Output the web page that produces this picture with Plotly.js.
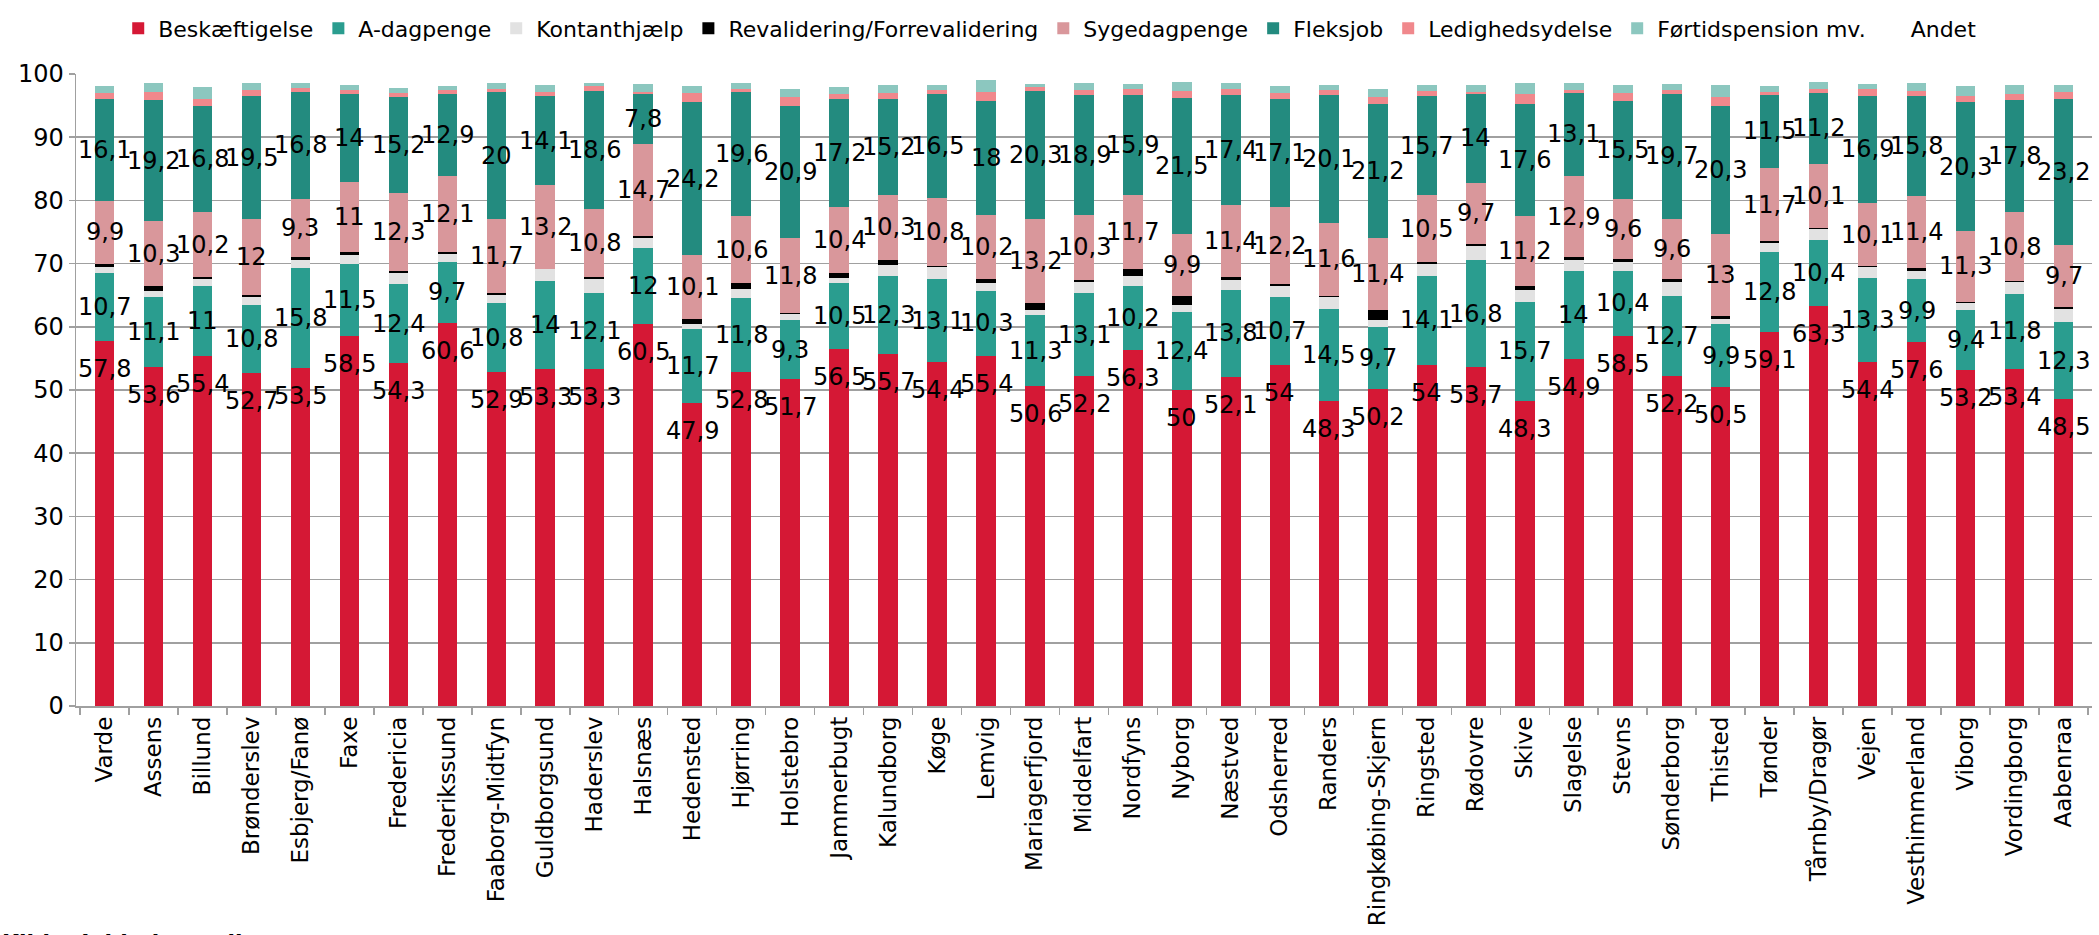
<!DOCTYPE html>
<html>
<head>
<meta charset="utf-8">
<script src="https://cdn.plot.ly/plotly-3.0.1.min.js"></script>
<style>html,body{margin:0;padding:0;background:#fff;}#chart{width:2099px;height:935px;}</style>
</head>
<body>
<div id="chart"></div>
<script>
const categories = ["Varde","Assens","Billund","Brønderslev","Esbjerg/Fanø","Faxe","Fredericia","Frederikssund","Faaborg-Midtfyn","Guldborgsund","Haderslev","Halsnæs","Hedensted","Hjørring","Holstebro","Jammerbugt","Kalundborg","Køge","Lemvig","Mariagerfjord","Middelfart","Nordfyns","Nyborg","Næstved","Odsherred","Randers","Ringkøbing-Skjern","Ringsted","Rødovre","Skive","Slagelse","Stevns","Sønderborg","Thisted","Tønder","Tårnby/Dragør","Vejen","Vesthimmerland","Viborg","Vordingborg","Aabenraa"];

const beskaeftigelse = [57.8,53.6,55.4,52.7,53.5,58.5,54.3,60.6,52.9,53.3,53.3,60.5,47.9,52.8,51.7,56.5,55.7,54.4,55.4,50.6,52.2,56.3,50,52.1,54,48.3,50.2,54,53.7,48.3,54.9,58.5,52.2,50.5,59.1,63.3,54.4,57.6,53.2,53.4,48.5];
const aDagpenge = [10.7,11.1,11,10.8,15.8,11.5,12.4,9.7,10.8,14,12.1,12,11.7,11.8,9.3,10.5,12.3,13.1,10.3,11.3,13.1,10.2,12.4,13.8,10.7,14.5,9.7,14.1,16.8,15.7,14,10.4,12.7,9.9,12.8,10.4,13.3,9.9,9.4,11.8,12.3];
const kontanthjaelp = [0.9,1.0,1.1,1.2,1.3,1.4,1.8,1.2,1.4,1.8,2.2,1.6,0.8,1.4,1.0,0.8,1.8,1.9,1.2,0.8,1.8,1.6,1.0,1.5,1.7,1.9,1.2,1.8,2.3,1.8,1.6,1.4,2.2,0.8,1.4,1.7,1.7,1.4,1.2,1.9,2.0];
const revalidering = [0.6,0.7,0.4,0.3,0.4,0.5,0.3,0.3,0.3,0.1,0.3,0.2,0.8,0.9,0.2,0.7,0.8,0.2,0.6,1.1,0.3,1.0,1.4,0.5,0.3,0.2,1.6,0.4,0.3,0.6,0.5,0.4,0.4,0.5,0.2,0.3,0.15,0.4,0.1,0.2,0.4];
const sygedagpenge = [9.9,10.3,10.2,12,9.3,11,12.3,12.1,11.7,13.2,10.8,14.7,10.1,10.6,11.8,10.4,10.3,10.8,10.2,13.2,10.3,11.7,9.9,11.4,12.2,11.6,11.4,10.5,9.7,11.2,12.9,9.6,9.6,13,11.7,10.1,10.1,11.4,11.3,10.8,9.7];
const fleksjob = [16.1,19.2,16.8,19.5,16.8,14,15.2,12.9,20,14.1,18.6,7.8,24.2,19.6,20.9,17.2,15.2,16.5,18,20.3,18.9,15.9,21.5,17.4,17.1,20.1,21.2,15.7,14,17.6,13.1,15.5,19.7,20.3,11.5,11.2,16.9,15.8,20.3,17.8,23.2];
const ledighedsydelse = [1.0,1.2,1.2,1.0,0.7,0.5,0.7,0.6,0.6,0.7,0.8,0.3,1.5,0.5,1.5,0.8,0.9,0.5,1.4,0.7,0.9,0.9,1.1,0.9,1.0,0.8,1.0,0.8,0.3,1.6,0.4,1.2,0.6,1.4,0.5,0.6,1.0,0.8,1.0,1.0,1.1];
const foertidspension = [1.1,1.5,1.8,1.0,0.7,0.8,0.8,0.7,0.9,1.0,0.5,1.3,1.1,1.0,1.2,1.1,1.3,0.9,2.0,0.4,1.0,0.8,1.4,0.9,1.1,0.9,1.4,1.0,1.1,1.7,1.2,1.3,1.0,1.9,0.9,1.1,0.9,1.3,1.6,1.4,1.0];
const andet = [1.7,1.4,2.1,1.5,1.4,1.7,2.1,1.9,1.4,1.8,1.4,1.7,1.9,1.5,2.4,2.0,1.7,1.6,0.9,1.6,1.5,1.6,1.3,1.5,1.9,1.7,2.3,1.7,1.8,1.5,1.4,1.7,1.6,1.7,2.0,1.4,1.6,1.3,1.9,1.7,1.8];

const yTicks = [0,10,20,30,40,50,60,70,80,90,100];

const FONT = "DejaVu Sans, Verdana, sans-serif";

const seriesDefs = [
  {name: "Beskæftigelse", y: beskaeftigelse, color: "#D51835"},
  {name: "A-dagpenge", y: aDagpenge, color: "#2A9D8F"},
  {name: "Kontanthjælp", y: kontanthjaelp, color: "#E2E2E2"},
  {name: "Revalidering/Forrevalidering", y: revalidering, color: "#000000"},
  {name: "Sygedagpenge", y: sygedagpenge, color: "#D9979B"},
  {name: "Fleksjob", y: fleksjob, color: "#238B7F"},
  {name: "Ledighedsydelse", y: ledighedsydelse, color: "#F0888C"},
  {name: "Førtidspension mv.", y: foertidspension, color: "#8CC7BF"},
  {name: "Andet", y: andet, color: "rgba(0,0,0,0)"}
];

const traces = seriesDefs.map(s => ({
  type: "bar",
  name: s.name,
  x: categories,
  y: s.y,
  marker: {color: s.color, line: {width: 0}},
  hoverinfo: "x+y+name"
}));

function fmt(v){ return String(v).replace(".", ","); }

const LBL = {family: FONT, size: 24, color: "#000"};
const annotations = [];
categories.forEach((c, i) => {
  const b = beskaeftigelse[i];
  annotations.push({x: c, y: b, xref: "x", yref: "y", text: fmt(b), showarrow: false, yshift: -28, font: LBL});
  const a = aDagpenge[i];
  annotations.push({x: c, y: b + a / 2, xref: "x", yref: "y", text: fmt(a), showarrow: false, font: LBL});
  const baseS = b + a + kontanthjaelp[i] + revalidering[i];
  const s = sygedagpenge[i];
  annotations.push({x: c, y: baseS + s / 2, xref: "x", yref: "y", text: fmt(s), showarrow: false, font: LBL});
  const f = fleksjob[i];
  annotations.push({x: c, y: baseS + s + f / 2, xref: "x", yref: "y", text: fmt(f), showarrow: false, font: LBL});
});

annotations.push({
  xref: "paper", yref: "paper", x: -0.0377, y: -0.352, xanchor: "left", yanchor: "top",
  text: "<b>Kilde: Jobindsats.dk</b>", showarrow: false,
  font: {family: FONT, size: 22, color: "#000"}
});

const layout = {
  width: 2099,
  height: 935,
  margin: {l: 76, r: 7, t: 69, b: 229, pad: 0},
  paper_bgcolor: "#fff",
  plot_bgcolor: "#fff",
  barmode: "stack",
  bargap: 0.6,
  showlegend: true,
  legend: {
    orientation: "h",
    x: 0.483, xanchor: "center",
    y: 1.072, yanchor: "middle",
    traceorder: "normal",
    font: {family: FONT, size: 22, color: "#000"},
    itemwidth: 30,
    bgcolor: "rgba(0,0,0,0)"
  },
  xaxis: {
    type: "category",
    tickangle: -90,
    tickfont: {family: FONT, size: 23, color: "#000"},
    showline: true, linecolor: "#A0A0A0", linewidth: 1.5,
    ticks: "outside", tickson: "boundaries", ticklen: 7, tickcolor: "#A0A0A0", tickwidth: 1.5,
    showgrid: false,
    automargin: false
  },
  yaxis: {
    range: [0, 100],
    tickvals: yTicks,
    ticktext: yTicks.map(String),
    tickfont: {family: FONT, size: 24, color: "#000"},
    showline: true, linecolor: "#A0A0A0", linewidth: 1.5,
    ticks: "outside", ticklen: 6, tickcolor: "#A0A0A0", tickwidth: 1.5,
    showgrid: true, gridcolor: "#A0A0A0", gridwidth: 1.5,
    zeroline: false,
    automargin: false
  },
  annotations: annotations
};

Plotly.newPlot("chart", traces, layout, {staticPlot: true, displayModeBar: false});
</script>
</body>
</html>
